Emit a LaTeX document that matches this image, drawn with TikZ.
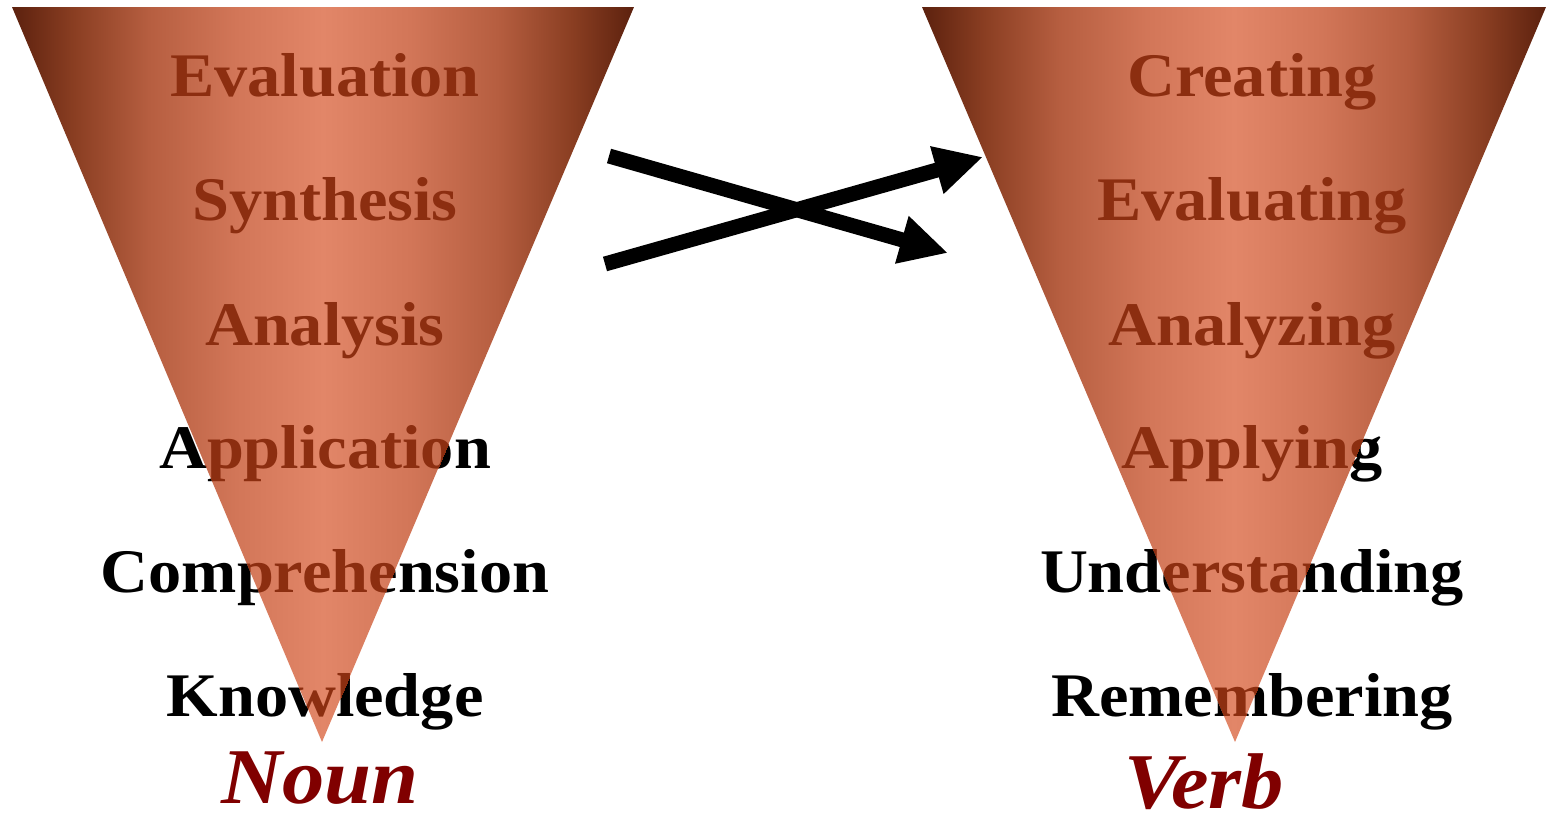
\documentclass[tikz,border=0pt]{standalone}
\usepackage{fontspec}
\setmainfont{Liberation Serif}[FakeStretch=1.07]
\usetikzlibrary{arrows.meta}
\definecolor{inbrown}{RGB}{140,46,16}
\definecolor{darkred}{RGB}{128,0,0}
\definecolor{cza}{RGB}{92,33,14}
\definecolor{czb}{RGB}{138,62,34}
\definecolor{czc}{RGB}{182,94,64}
\definecolor{czd}{RGB}{210,118,88}
\definecolor{cze}{RGB}{226,134,104}
\pgfdeclarehorizontalshading{cone}{100bp}{color(0bp)=(cza); color(25bp)=(cza); color(30bp)=(czb); color(36bp)=(czc); color(43bp)=(czd); color(50bp)=(cze); color(57bp)=(czd); color(64bp)=(czc); color(70bp)=(czb); color(75bp)=(cza); color(100bp)=(cza)}
\tikzset{
  lbl/.style={font=\fontsize{62}{70}\selectfont\bfseries, inner sep=0pt, anchor=base},
  tag/.style={font=\fontsize{79}{85}\selectfont\bfseries\itshape, text=darkred, inner sep=0pt, anchor=base},
  cone/.style={shading=cone, draw=none},
  arr/.style={line width=15pt, -{Triangle[length=48pt,width=46pt]}}
}
\begin{document}
\begin{tikzpicture}[x=1pt,y=-1pt]
\useasboundingbox (0,0) rectangle (1547,814);
% corners
\coordinate (LA) at (12,7);
\coordinate (LB) at (634,7);
\coordinate (LC) at (322,742);
\coordinate (RA) at (922,7);
\coordinate (RB) at (1546,7);
\coordinate (RC) at (1235,742);
% black words (lower levels)
\node[lbl] (l4) at (325,468) {Application};
\node[lbl] (l5) at (325,592) {Comprehension};
\node[lbl] (l6) at (325,716) {Knowledge};
\node[lbl] (r4) at (1252,468) {Applying};
\node[lbl] (r5) at (1252,592) {Understanding};
\node[lbl] (r6) at (1252,716) {Remembering};
% cones
\shade[cone] (LA) -- (LB) -- (LC) -- cycle;
\shade[cone] (RA) -- (RB) -- (RC) -- cycle;
% words inside cones
\begin{scope}
\clip (LA) -- (LB) -- (LC) -- cycle;
\node[lbl, text=inbrown] (l1) at (325,96) {Evaluation};
\node[lbl, text=inbrown] (l2) at (325,220) {Synthesis};
\node[lbl, text=inbrown] (l3) at (325,345) {Analysis};
\node[lbl, text=inbrown] (l4b) at (325,468) {Application};
\node[lbl, text=inbrown] (l5b) at (325,592) {Comprehension};
\node[lbl, text=inbrown] (l6b) at (325,716) {Knowledge};
\end{scope}
\begin{scope}
\clip (RA) -- (RB) -- (RC) -- cycle;
\node[lbl, text=inbrown] (r1) at (1252,96) {Creating};
\node[lbl, text=inbrown] (r2) at (1252,220) {Evaluating};
\node[lbl, text=inbrown] (r3) at (1252,345) {Analyzing};
\node[lbl, text=inbrown] (r4b) at (1252,468) {Applying};
\node[lbl, text=inbrown] (r5b) at (1252,592) {Understanding};
\node[lbl, text=inbrown] (r6b) at (1252,716) {Remembering};
\end{scope}
% bottom labels
\node[tag] (noun) at (320,803) {Noun};
\node[tag] (verb) at (1204,808) {Verb};
% arrows
\coordinate (a1s) at (609,156);
\coordinate (a1e) at (948,253);
\coordinate (a2s) at (605,264);
\coordinate (a2e) at (983,157);
\draw[arr] (a1s) -- (a1e);
\draw[arr] (a2s) -- (a2e);
\end{tikzpicture}
\end{document}
